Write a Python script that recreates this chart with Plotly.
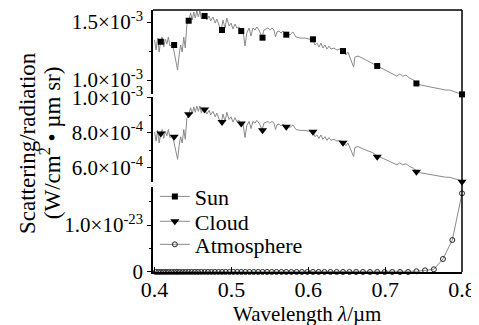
import plotly.graph_objects as go

# ---------------- data ----------------
# wavelength grid of the Sun / Cloud spectra (um)
wl = [0.400,0.402,0.404,0.406,0.408,0.410,0.412,0.414,0.416,0.418,0.420,0.423,0.425,0.428,0.430,
      0.432,0.434,0.436,0.438,0.440,0.442,0.444,0.4455,0.447,0.449,0.451,0.453,0.455,0.457,0.459,
      0.461,0.463,0.4657,0.468,0.471,0.473,0.476,0.479,0.481,0.484,0.4865,0.489,0.4917,0.494,0.497,
      0.4995,0.502,0.5047,0.507,0.510,0.5125,0.515,0.5177,0.520,0.523,0.5255,0.528,0.5307,0.533,0.536,
      0.540,0.5424,0.545,0.5476,0.550,0.5528,0.5554,0.5573,0.5593,0.562,0.5645,0.567,0.571,0.5736,0.576,
      0.580,0.584,0.589,0.5957,0.601,0.606,0.6087,0.6113,0.614,0.6165,0.619,0.6217,0.6243,0.627,0.6295,
      0.6334,0.6373,0.641,0.645,0.649,0.6516,0.654,0.657,0.659,0.6607,0.6646,0.670,0.675,0.680,0.684,
      0.6893,0.6945,0.6997,0.705,0.710,0.7153,0.719,0.723,0.727,0.732,0.737,0.741,0.7466,0.753,0.7596,
      0.766,0.7725,0.779,0.784,0.789,0.795,0.800]

# Sun scattering, units of 1e-3 W/(cm2 um sr)
sun = [1.345,1.259,1.362,1.241,1.336,1.371,1.284,1.353,1.310,1.371,1.293,1.310,1.259,1.172,1.086,
       1.216,1.302,1.241,1.371,1.276,1.474,1.500,1.534,1.578,1.517,1.586,1.534,1.595,1.543,1.595,
       1.526,1.578,1.552,1.517,1.552,1.509,1.543,1.491,1.526,1.457,1.422,1.517,1.448,1.534,1.466,
       1.491,1.440,1.483,1.448,1.457,1.422,1.431,1.293,1.405,1.448,1.379,1.448,1.431,1.457,1.431,
       1.371,1.431,1.440,1.448,1.431,1.448,1.431,1.371,1.414,1.422,1.405,1.422,1.397,1.405,1.388,
       1.414,1.371,1.362,1.362,1.353,1.345,1.302,1.319,1.284,1.319,1.276,1.302,1.267,1.293,1.267,
       1.276,1.259,1.267,1.250,1.216,1.241,1.198,1.155,1.112,1.198,1.207,1.190,1.172,1.155,1.147,
       1.121,1.103,1.086,1.069,1.052,1.034,1.052,1.034,1.043,1.017,1.000,0.974,0.957,0.948,0.940,
       0.931,0.922,0.914,0.914,0.905,0.888,0.877]

# Cloud scattering, units of 1e-4 W/(cm2 um sr)
cloud = [8.03,7.52,8.13,7.41,7.98,8.18,7.67,8.08,7.82,8.18,7.72,7.82,7.52,7.00,6.48,
         7.26,7.77,7.41,8.18,7.62,8.80,8.96,9.16,9.42,9.06,9.47,9.16,9.52,9.21,9.52,
         9.11,9.42,9.27,9.06,9.27,9.01,9.21,8.90,9.11,8.70,8.49,9.06,8.64,9.16,8.75,
         8.90,8.60,8.85,8.64,8.70,8.49,8.54,7.72,8.39,8.64,8.23,8.64,8.54,8.70,8.54,
         8.18,8.54,8.60,8.64,8.54,8.64,8.54,8.18,8.44,8.49,8.39,8.49,8.34,8.39,8.29,
         8.44,8.18,8.13,8.13,8.08,8.03,7.77,7.87,7.67,7.87,7.62,7.77,7.56,7.72,7.56,
         7.62,7.52,7.56,7.46,7.26,7.41,7.15,6.90,6.64,7.15,7.21,7.10,7.00,6.90,6.85,
         6.69,6.58,6.48,6.38,6.28,6.17,6.28,6.17,6.23,6.07,5.97,5.81,5.71,5.66,5.61,
         5.56,5.50,5.46,5.46,5.40,5.30,5.24]

# marker positions
mk_wl = [0.4082,0.4255,0.4444,0.4651,0.4878,0.5128,0.5405,0.5714,0.6061,0.6452,0.6897,0.7407,0.8000]
sun_mk = [1.330,1.302,1.511,1.552,1.431,1.422,1.365,1.391,1.351,1.250,1.121,0.971,0.877]   # 1e-3
cloud_mk = [7.95,7.76,9.05,9.32,8.61,8.52,8.14,8.33,8.05,7.42,6.63,5.77,5.20]              # 1e-4

# Atmosphere scattering, units of 1e-23
atm_wl = [0.4016,0.4049,0.4082,0.4115,0.4149,0.4184,0.4219,0.4255,0.4292,0.4329,0.4367,0.4405,
          0.4444,0.4484,0.4525,0.4566,0.4608,0.4651,0.4695,0.4739,0.4785,0.4831,0.4878,0.4926,
          0.4975,0.5025,0.5076,0.5128,0.5181,0.5236,0.5291,0.5348,0.5405,0.5464,0.5525,0.5587,
          0.5650,0.5714,0.5780,0.5848,0.5917,0.5988,0.6061,0.6135,0.6211,0.6289,0.6369,0.6452,
          0.6536,0.6623,0.6711,0.6803,0.6897,0.6993,0.7092,0.7194,0.7299,0.7407,0.7519,0.7634,
          0.7752,0.7874,0.8000]
atm = [0,0,0,0,0,0,0,0,0,0,0,0,
       0,0,0,0,0,0,0,0,0,0,0,0,
       0,0,0,0,0,0,0,0,0,0,0,0,
       0,0,0,0,0,0,0,0,0,0,0,0,
       0,0,0,0,0,0,0,0,0,0.015,0.035,0.057,
       0.277,0.68,1.674]

x_ticks = [0.4, 0.5, 0.6, 0.7, 0.8]
x_labels = ["0.4", "0.5", "0.6", "0.7", "0.8"]
series_names = ["Sun", "Cloud", "Atmosphere"]

# ---------------- figure ----------------
FONT = "'Liberation Serif', 'Times New Roman', Times, serif"
GRAY = "#8a8a8a"
SQ = dict(symbol="square", size=6, color="black")
TRI = dict(symbol="triangle-down", size=8, color="black")
CIR = dict(symbol="circle-open", size=5, color="#222222", line=dict(width=1))
fig = go.Figure()

fig.add_trace(go.Scatter(x=wl, y=[v * 1e-3 for v in sun], mode="lines", xaxis="x", yaxis="y3",
                         line=dict(color=GRAY, width=1), showlegend=False))
fig.add_trace(go.Scatter(x=mk_wl, y=[v * 1e-3 for v in sun_mk], mode="markers", xaxis="x", yaxis="y3",
                         marker=SQ, showlegend=False, cliponaxis=False))
fig.add_trace(go.Scatter(x=wl, y=[v * 1e-4 for v in cloud], mode="lines", xaxis="x", yaxis="y2",
                         line=dict(color=GRAY, width=1), showlegend=False))
fig.add_trace(go.Scatter(x=mk_wl, y=[v * 1e-4 for v in cloud_mk], mode="markers", xaxis="x", yaxis="y2",
                         marker=TRI, showlegend=False, cliponaxis=False))
fig.add_trace(go.Scatter(x=atm_wl, y=[v * 1e-23 for v in atm], mode="lines+markers", xaxis="x", yaxis="y",
                         line=dict(color=GRAY, width=1), marker=CIR, showlegend=False, cliponaxis=False))

# legend entries (one legend box per entry so the row spacing can match)
for name, mk, lg in zip(series_names, [SQ, TRI, CIR], ["legend", "legend2", "legend3"]):
    fig.add_trace(go.Scatter(x=[None], y=[None], mode="lines+markers", name=name, xaxis="x", yaxis="y",
                             line=dict(color=GRAY, width=1), marker=mk, legend=lg))

YTICKFONT = dict(family=FONT, size=21, color="black")
XTICKFONT = dict(family=FONT, size=22, color="black")
yax_common = dict(showline=True, linecolor="black", linewidth=1.5, ticks="outside", ticklen=4,
                  tickwidth=1, tickcolor="black", showgrid=False, zeroline=False, anchor="x",
                  tickmode="array", tickfont=YTICKFONT, automargin=False, ticklabeloverflow="allow")
LEG = dict(x=0.006, xanchor="left", yanchor="top", bgcolor="rgba(0,0,0,0)",
           font=dict(family=FONT, size=22, color="black"), itemwidth=30)

fig.update_layout(
    width=479, height=325,
    margin=dict(l=145, r=25, t=2, b=61),
    paper_bgcolor="white", plot_bgcolor="white",
    font=dict(family=FONT, size=22, color="black"),
    hovermode=False,
    xaxis=dict(domain=[0, 1], range=[0.398, 0.8], anchor="y", showline=True, linecolor="black",
               linewidth=1.5, ticks="inside", ticklen=5, tickcolor="black", tickmode="array",
               tickvals=x_ticks, ticktext=x_labels, showgrid=False, zeroline=False,
               tickfont=XTICKFONT, automargin=False, ticklabeloverflow="allow",
               ticklabelstandoff=-3),
    yaxis=dict(domain=[0, 0.3244], range=[0, 1.809e-23],
               tickvals=[0, 1e-23], ticktext=["0", "1.0×10<sup>-23</sup>"],
               minor=dict(tickmode="array", tickvals=[0.5e-23, 1.5e-23], ticklen=2, ticks="outside",
                          tickcolor="black"),
               **yax_common),
    yaxis2=dict(domain=[0.3435, 0.668], range=[5.19e-4, 10.03e-4],
                tickvals=[6e-4, 8e-4, 1e-3],
                ticktext=["6.0×10<sup>-4</sup>", "8.0×10<sup>-4</sup>", "1.0×10<sup>-3</sup>"],
                minor=dict(tickmode="array", tickvals=[7e-4, 9e-4], ticklen=2, ticks="outside",
                           tickcolor="black"),
                **yax_common),
    yaxis3=dict(domain=[0.678, 1], range=[0.877e-3, 1.6034e-3],
                tickvals=[1e-3, 1.5e-3],
                ticktext=["1.0×10<sup>-3</sup>", "1.5×10<sup>-3</sup>"],
                minor=dict(tickmode="array", tickvals=[1.25e-3], ticklen=2, ticks="outside",
                           tickcolor="black"),
                **yax_common),
    legend=dict(y=0.368, **LEG),
    legend2=dict(y=0.273, **LEG),
    legend3=dict(y=0.185, **LEG),
    shapes=[
        dict(type="line", xref="paper", yref="paper", x0=1, x1=1, y0=0, y1=1,
             line=dict(color="black", width=1.5)),
        dict(type="line", xref="paper", yref="paper", x0=0, x1=1, y0=1, y1=1,
             line=dict(color="black", width=1.5)),
    ],
    annotations=[
        dict(xref="paper", yref="paper", x=-0.408, y=0.492, xanchor="center", yanchor="middle",
             textangle=-90, showarrow=False, text="Scattering/radiation",
             font=dict(family=FONT, size=23, color="black")),
        dict(xref="paper", yref="paper", x=-0.333, y=0.492, xanchor="center", yanchor="middle",
             textangle=-90, showarrow=False, text="(W/cm<sup>2</sup> • µm sr)",
             font=dict(family=FONT, size=23, color="black")),
        dict(xref="paper", yref="paper", x=0.498, y=-0.160, xanchor="center", yanchor="middle",
             showarrow=False, text="Wavelength <i>λ</i>/µm",
             font=dict(family=FONT, size=21, color="black")),
    ],
)

fig.write_html("out.html")
